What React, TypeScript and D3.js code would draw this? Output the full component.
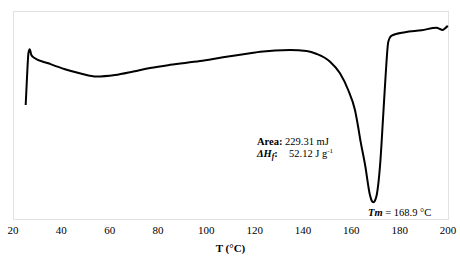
import React from "react";
import * as d3 from "d3";

const temperature = [25.25, 25.8, 26.4, 26.9, 27.6, 28.7, 34.6, 41.5, 48, 54.6, 62.2, 69.8, 76.7, 85, 97.4, 106.9, 118.1, 122.3, 134.6, 141.5, 145.7, 151.2, 155.3, 158.7, 161.5, 162.9, 163.6, 165.7, 167.7, 168.4, 169.1, 169.8, 170.5, 171.9, 173.2, 174.2, 175.3, 176.7, 182.2, 189.1, 195.3, 196.7, 197.6, 198.8, 199.9];
const heatFlow = [11.4, 14.2, 16.6, 16.97, 16.4, 16.13, 15.57, 14.97, 14.55, 14.25, 14.4, 14.75, 15.1, 15.42, 15.8, 16.17, 16.57, 16.73, 16.9, 16.8, 16.5, 15.73, 14.57, 12.9, 10.9, 9.1, 8.07, 5.4, 2.4, 1.85, 1.67, 1.85, 2.4, 5.4, 10.4, 14.4, 17.73, 18.33, 18.67, 18.87, 19.13, 19.0, 18.9, 19.07, 19.33];
const xTicks = [20, 40, 60, 80, 100, 120, 140, 160, 180, 200];

const W = 460, H = 262;
const left = 13, right = 448, top = 11, bottom = 219;
const font = "'Liberation Serif', 'DejaVu Serif', serif";

export default function App() {
  const x = d3.scaleLinear().domain([20, 200]).range([left, right]);
  const y = d3.scaleLinear().domain([0, 20.8]).range([bottom, top]);
  const pts = temperature.map((t, i) => [t, heatFlow[i]] as [number, number]);
  const line = d3.line<[number, number]>().x(d => x(d[0])).y(d => y(d[1])).curve(d3.curveMonotoneX);
  return (
    <div style={{ fontFamily: font }}>
      <svg width={W} height={H} style={{ position: "absolute", left: 0, top: 0 }}>
        <style>{`text { font-family: 'Liberation Serif', 'DejaVu Serif', serif; }`}</style>
        <rect x={0} y={0} width={W} height={H} fill="#fff" />
        <rect x={left + 0.5} y={top + 0.5} width={right - left} height={bottom - top} fill="none" stroke="#e2e2e2" strokeWidth={1} />
        <path d={line(pts) || ""} fill="none" stroke="#000" strokeWidth={2} strokeLinejoin="round" />
        {xTicks.map(t => (
          <text key={t} x={x(t)} y={234} textAnchor="middle" fontSize={11} fill="#000">{t}</text>
        ))}
        <text x={(left + right) / 2} y={251.5} textAnchor="middle" fontSize={11} fontWeight="bold" fill="#000">T (°C)</text>
        <text x={257} y={145} fontSize={10.5} fill="#000">
          <tspan fontWeight="bold">Area:</tspan>
          <tspan> 229.31 mJ</tspan>
        </text>
        <text x={257} y={156.5} fontSize={10.5} fill="#000">
          <tspan fontWeight="bold" fontStyle="italic">ΔH</tspan>
          <tspan fontWeight="bold" fontStyle="italic" fontSize={7.5} dy={2}>f</tspan>
          <tspan fontWeight="bold" dy={-2}>:</tspan>
        </text>
        <text x={289} y={156.5} fontSize={10.5} fill="#000">
          <tspan>52.12 J g</tspan>
          <tspan fontSize={7} dy={-4}>-1</tspan>
        </text>
        <text x={368} y={216} fontSize={10.5} fill="#000">
          <tspan fontWeight="bold" fontStyle="italic">Tm</tspan>
          <tspan> = 168.9 °C</tspan>
        </text>
      </svg>
    </div>
  );
}
